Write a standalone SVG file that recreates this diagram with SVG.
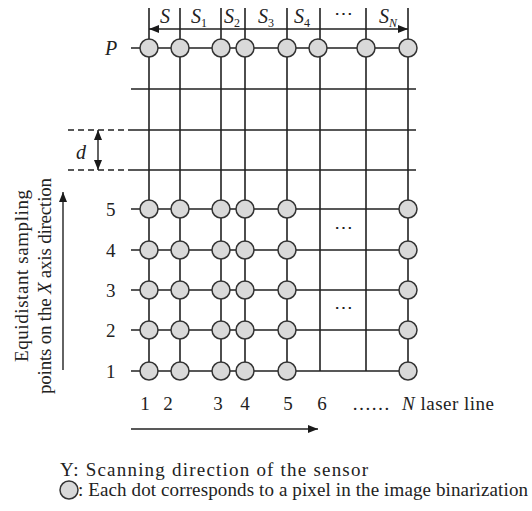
<svg xmlns="http://www.w3.org/2000/svg" width="532" height="511" viewBox="0 0 532 511">
<defs>
<marker id="ah" viewBox="0 0 10 8" refX="10" refY="4" markerWidth="10" markerHeight="8" markerUnits="userSpaceOnUse" orient="auto-start-reverse">
<path d="M0,0 L10,4 L0,8 z" fill="#1a1a1a"/>
</marker>
<style>
.ln{stroke:#222;stroke-width:1.6;fill:none}
.dash{stroke:#222;stroke-width:1.6;fill:none;stroke-dasharray:6,4}
.ar{stroke:#222;stroke-width:1.4;fill:none;marker-start:url(#ah);marker-end:url(#ah)}
.ar1{stroke:#222;stroke-width:1.4;fill:none;marker-end:url(#ah)}
.dot{fill:#d9d9d9;stroke:#333;stroke-width:1.5}
text{font-family:"Liberation Serif","Times New Roman",serif;fill:#222;font-size:19px}
.it{font-style:italic}
.c{text-anchor:middle}
.s{font-size:20px}
.sub{font-size:12px;font-style:normal}
</style>
</defs>
<rect width="532" height="511" fill="#fff"/>
<g id="connectors">
<path class="ln" d="M149,8V371M180,8V371M221,8V371M245,8V371M287,8V371M320,8V371M366,8V371M408,8V371"/>
<path class="ln" d="M131,48H408M131,89H416M131,130H416M131,170H416M131,209H408M131,250H408M131,290H408M131,330H408M131,371H408"/>
<path class="dash" d="M68,130H131M68,170H131"/>
<path class="ar" d="M149,29H180M180,29H221M221,29H245M245,29H287M287,29H320M320,29H366M366,29H408"/>
<path class="ar" d="M98,130V170"/>
<path class="ar1" d="M63,370V192"/>
<path class="ar1" d="M131,429H318"/>
</g>
<g id="dots">
<g id="rowP">
<circle class="dot" cx="149" cy="48" r="9"/><circle class="dot" cx="180" cy="48" r="9"/><circle class="dot" cx="221" cy="48" r="9"/><circle class="dot" cx="245" cy="48" r="9"/><circle class="dot" cx="287" cy="48" r="9"/><circle class="dot" cx="318" cy="48" r="9"/><circle class="dot" cx="366" cy="48" r="9"/><circle class="dot" cx="408" cy="48" r="9"/>
</g>
<g id="row5"><circle class="dot" cx="149" cy="209" r="9"/><circle class="dot" cx="180" cy="209" r="9"/><circle class="dot" cx="221" cy="209" r="9"/><circle class="dot" cx="245" cy="209" r="9"/><circle class="dot" cx="287" cy="209" r="9"/><circle class="dot" cx="408" cy="209" r="9"/></g>
<g id="row4"><circle class="dot" cx="149" cy="250" r="9"/><circle class="dot" cx="180" cy="250" r="9"/><circle class="dot" cx="221" cy="250" r="9"/><circle class="dot" cx="245" cy="250" r="9"/><circle class="dot" cx="287" cy="250" r="9"/><circle class="dot" cx="408" cy="250" r="9"/></g>
<g id="row3"><circle class="dot" cx="149" cy="290" r="9"/><circle class="dot" cx="180" cy="290" r="9"/><circle class="dot" cx="221" cy="290" r="9"/><circle class="dot" cx="245" cy="290" r="9"/><circle class="dot" cx="287" cy="290" r="9"/><circle class="dot" cx="408" cy="290" r="9"/></g>
<g id="row2"><circle class="dot" cx="149" cy="330" r="9"/><circle class="dot" cx="180" cy="330" r="9"/><circle class="dot" cx="221" cy="330" r="9"/><circle class="dot" cx="245" cy="330" r="9"/><circle class="dot" cx="287" cy="330" r="9"/><circle class="dot" cx="408" cy="330" r="9"/></g>
<g id="row1"><circle class="dot" cx="149" cy="371" r="9"/><circle class="dot" cx="180" cy="371" r="9"/><circle class="dot" cx="221" cy="371" r="9"/><circle class="dot" cx="245" cy="371" r="9"/><circle class="dot" cx="287" cy="371" r="9"/><circle class="dot" cx="408" cy="371" r="9"/></g>
</g>
<g id="labels">
<text class="it s" x="105" y="55">P</text>
<text x="106" y="216">5</text>
<text x="106" y="257">4</text>
<text x="106" y="297">3</text>
<text x="106" y="337">2</text>
<text x="106" y="378">1</text>
<text class="it c s" x="165" y="23">S</text>
<text class="it c s" x="199" y="23">S<tspan class="sub" dy="4">1</tspan></text>
<text class="it c s" x="232" y="23">S<tspan class="sub" dy="4">2</tspan></text>
<text class="it c s" x="266" y="23">S<tspan class="sub" dy="4">3</tspan></text>
<text class="it c s" x="302" y="23">S<tspan class="sub" dy="4">4</tspan></text>
<text class="c" x="343" y="20">⋯</text>
<text class="it c s" x="388" y="23">S<tspan font-size="12" dy="4">N</tspan></text>
<text class="it c s" x="81" y="159">d</text>
<text class="c" x="343" y="234" font-size="14">⋯</text>
<text class="c" x="343" y="314" font-size="14">⋯</text>
<text class="c" x="145" y="410">1</text>
<text class="c" x="168" y="410">2</text>
<text class="c" x="218" y="410">3</text>
<text class="c" x="245" y="410">4</text>
<text class="c" x="288" y="410">5</text>
<text class="c" x="322" y="410">6</text>
<text x="352" y="410">……</text>
<text x="402" y="410" textLength="92"><tspan font-style="italic">N</tspan> laser line</text>
<text class="c" transform="translate(28,276) rotate(-90)" textLength="172">Equidistant sampling</text>
<text class="c" transform="translate(51,286) rotate(-90)" textLength="216">points on the <tspan font-style="italic">X</tspan> axis direction</text>
<text x="60" y="476" textLength="308" lengthAdjust="spacing">Y: Scanning direction of the sensor</text>
<circle class="dot" cx="69" cy="490" r="9"/>
<text x="78" y="496" textLength="450">: Each dot corresponds to a pixel in the image binarization</text>
</g>
</svg>
